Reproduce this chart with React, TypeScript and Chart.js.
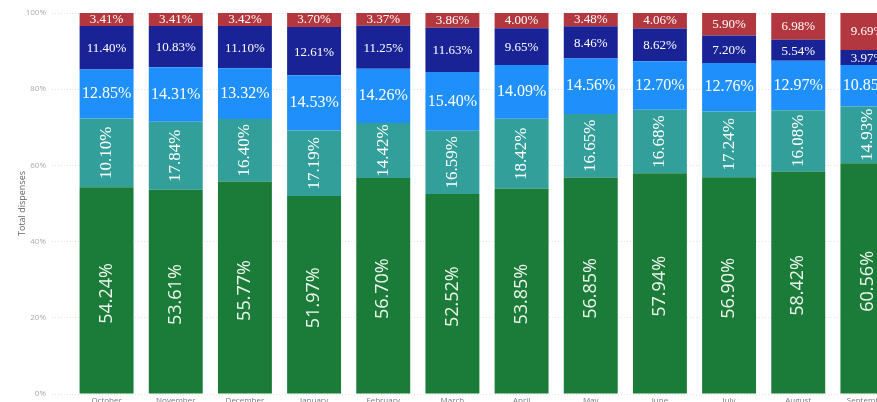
import React, { useEffect, useRef } from "react";
import { Chart, registerables } from "chart.js";

Chart.register(...registerables);

const months = ["October", "November", "December", "January", "February", "March", "April", "May", "June", "July", "August", "September"];
const greenValues = [54.24, 53.61, 55.77, 51.97, 56.70, 52.52, 53.85, 56.85, 57.94, 56.90, 58.42, 60.56];
const tealValues = [18.10, 17.84, 16.40, 17.19, 14.42, 16.59, 18.42, 16.65, 16.68, 17.24, 16.08, 14.93];
const lightBlueValues = [12.85, 14.31, 13.32, 14.53, 14.26, 15.40, 14.09, 14.56, 12.70, 12.76, 12.97, 10.85];
const darkBlueValues = [11.40, 10.83, 11.10, 12.61, 11.25, 11.63, 9.65, 8.46, 8.62, 7.20, 5.54, 3.97];
const redValues = [3.41, 3.41, 3.42, 3.70, 3.37, 3.86, 4.00, 3.48, 4.06, 5.90, 6.98, 9.69];
// the reference prints this label differently from the segment's size
const tealLabelOverrides: Record<number, string> = { 0: "10.10%" };
const yTicks = [0, 20, 40, 60, 80, 100];

type LabelStyle = { font: string; rotate: boolean; color: string; dy: number };
const labelStyles: LabelStyle[] = [
  { font: "18px 'Open Sans'", rotate: true, color: "#eef6ee", dy: 3 },
  { font: "17px 'Liberation Serif'", rotate: true, color: "#ffffff", dy: 0 },
  { font: "16px 'Liberation Serif'", rotate: false, color: "#ffffff", dy: 0 },
  { font: "13px 'Liberation Serif'", rotate: false, color: "#ffffff", dy: 1 },
  { font: "13px 'Liberation Serif'", rotate: false, color: "#ffffff", dy: 0 },
];

const barLabelPlugin = {
  id: "barLabels",
  afterDatasetsDraw(chart: any) {
    const ctx = chart.ctx;
    chart.data.datasets.forEach((ds: any, di: number) => {
      const meta = chart.getDatasetMeta(di);
      const st = labelStyles[di];
      meta.data.forEach((el: any, i: number) => {
        const v = ds.data[i];
        let text = v.toFixed(2) + "%";
        if (di === 1 && tealLabelOverrides[i]) text = tealLabelOverrides[i];
        const cx = el.x;
        const cy = (el.y + el.base) / 2 + st.dy;
        ctx.save();
        ctx.font = st.font;
        ctx.fillStyle = st.color;
        ctx.textAlign = "center";
        ctx.textBaseline = "middle";
        ctx.translate(cx, cy);
        if (st.rotate) ctx.rotate(-Math.PI / 2);
        ctx.fillText(text, 0, 0);
        ctx.restore();
      });
    });
  },
};

export default function App() {
  const ref = useRef<HTMLCanvasElement>(null);
  useEffect(() => {
    if (!ref.current) return;
    const mk = (label: string, data: number[], color: string) => ({
      label,
      data,
      backgroundColor: color,
      borderWidth: 0,
      barPercentage: 0.78,
      categoryPercentage: 1,
    });
    const chart = new Chart(ref.current, {
      type: "bar",
      data: {
        labels: months,
        datasets: [
          mk("Green", greenValues, "#1b7c3a"),
          mk("Teal", tealValues, "#329f9b"),
          mk("Light blue", lightBlueValues, "#1f90fb"),
          mk("Dark blue", darkBlueValues, "#1a2395"),
          mk("Red", redValues, "#b3373e"),
        ],
      },
      options: {
        responsive: false,
        animation: false,
        layout: { padding: { top: 33, left: 0, right: 0, bottom: 0 } },
        plugins: { legend: { display: false }, tooltip: { enabled: false } },
        scales: {
          x: {
            stacked: true,
            grid: { display: false, drawTicks: false },
            border: { display: false },
            ticks: { color: "#777", font: { family: "'Open Sans'", size: 8 }, padding: 2, maxRotation: 0, autoSkip: false },
            afterFit: (s: any) => { s.height = 20; },
          },
          y: {
            stacked: true,
            min: 0,
            max: 100,
            afterBuildTicks: (s: any) => { s.ticks = yTicks.map((v) => ({ value: v })); },
            ticks: {
              color: "#aaa",
              font: { family: "'Open Sans'", size: 8 },
              padding: 6,
              callback: (v: any) => v + "%",
            },
            grid: { color: "#e2e2e2", tickLength: 20, tickColor: "#e2e2e2", tickBorderDash: [1, 2], lineWidth: 1 },
            border: { display: false, dash: [1, 2] },
            title: {
              display: true,
              text: "Total dispenses",
              color: "#666",
              font: { family: "'Open Sans'", size: 9 },
              padding: { top: 17, bottom: 0 },
            },
            afterFit: (s: any) => { s.width = 72; },
          },
        },
      },
      plugins: [barLabelPlugin],
    } as any);
    return () => chart.destroy();
  }, []);
  return (
    <div style={{ position: "fixed", left: 0, top: 0, width: 877, height: 402, overflow: "hidden", background: "#fff" }}>
      <canvas ref={ref} width={902} height={434} style={{ position: "absolute", left: 0, top: -20, width: 902, height: 434 }} />
    </div>
  );
}
